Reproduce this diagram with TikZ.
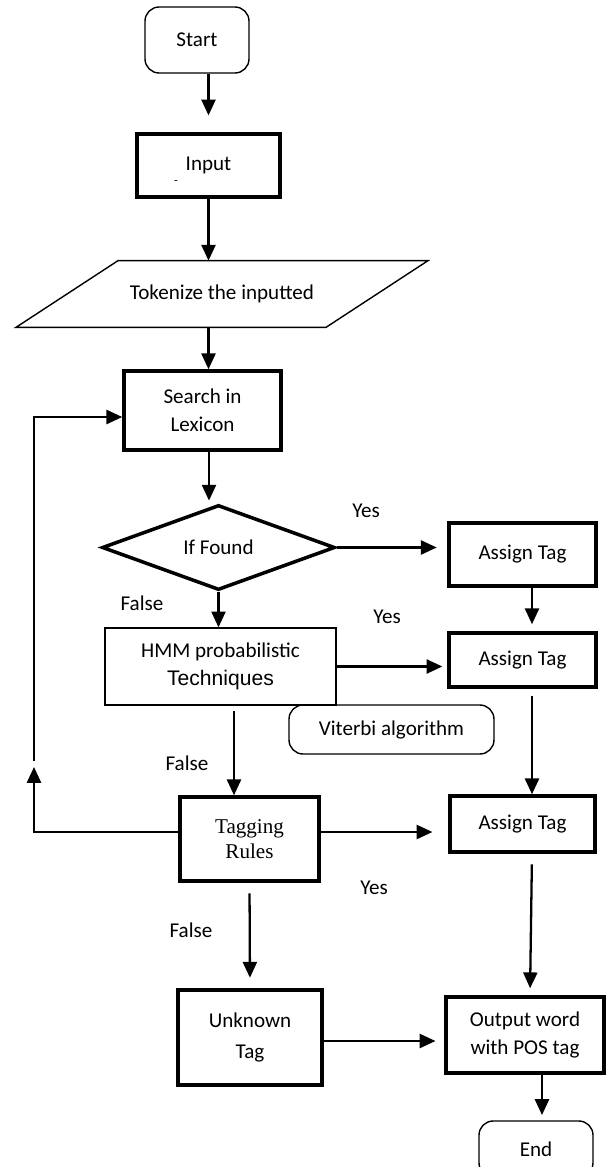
\documentclass[tikz,border=0pt]{standalone}
\usepackage{fontspec}
\setmainfont{Carlito}
\newfontfamily\arialfont{Liberation Sans}
\newfontfamily\timesfont{Liberation Serif}
\usetikzlibrary{arrows.meta,shapes.geometric,calc}

\tikzset{
  base/.style={font=\fontsize{12}{16}\selectfont, align=center, inner sep=0pt},
  thinbox/.style={base, draw, line width=0.8pt},
  thickbox/.style={base, draw, line width=2pt},
  term/.style={base, draw, line width=0.8pt, rounded corners=8pt},
  arr/.style={line width=1.3pt, -{Triangle[length=9pt,width=8pt]}},
  lbl/.style={font=\fontsize{12}{14}\selectfont}
}

\begin{document}
\begin{tikzpicture}[x=0.02cm, y=-0.02cm]
  \useasboundingbox (0,0) rectangle (608,1167);

  % boxes
  \node[term, minimum width=2.08cm, minimum height=1.32cm] (start) at (197,40) {Start};
  \node[thickbox, minimum width=2.86cm, minimum height=1.26cm] (input) at (208.5,165.5) {Input};
  \node[font=\scriptsize] (dash) at (176,183) {-};
  \node[base, minimum height=1.32cm] (tok) at (222,294) {Tokenize the inputted};
  \draw[line width=0.8pt] ($(tok.north)+(-104,0)$) -- ($(tok.north)+(206,0)$)
    -- ($(tok.south)+(104,0)$) -- ($(tok.south)+(-206,0)$) -- cycle;
  \node[thickbox, minimum width=3.14cm, minimum height=1.58cm] (search) at (202.5,410.5) {Search in\\Lexicon};
  \node[thickbox, diamond, minimum width=4.66cm, minimum height=1.54cm] (found) at (218.5,547.5) {If Found};
  \node[thickbox, minimum width=2.94cm, minimum height=1.26cm] (a1) at (522.5,554.5) {Assign Tag};
  \node[thinbox, minimum width=4.62cm, minimum height=1.54cm] (hmm) at (220.5,666.5)
    {HMM probabilistic\\{\arialfont Techniques}};
  \node[thickbox, minimum width=2.94cm, minimum height=1.08cm] (a2) at (522.5,660) {Assign Tag};
  \node[term, minimum width=4.10cm, minimum height=0.98cm] (vit) at (391.5,729.5) {Viterbi algorithm};
  \node[thickbox, minimum width=2.78cm, minimum height=1.68cm, font=\timesfont\fontsize{12}{14}\selectfont]
    (tag) at (249.5,839) {Tagging\\Rules};
  \node[thickbox, minimum width=2.90cm, minimum height=1.12cm] (a3) at (522.5,824) {Assign Tag};
  \node[thickbox, minimum width=2.88cm, minimum height=1.90cm, font=\fontsize{12}{17.5}\selectfont]
    (unk) at (250,1037.5) {Unknown\\Tag};
  \node[thickbox, minimum width=3.16cm, minimum height=1.52cm] (out) at (525,1035) {Output word\\with POS tag};
  \node[term, minimum width=2.28cm, minimum height=1.12cm] (end) at (536,1149) {End};

  % labels
  \node[lbl] (yes1) at (366,511) {Yes};
  \node[lbl] (yes2) at (387,617) {Yes};
  \node[lbl] (yes3) at (374,888) {Yes};
  \node[lbl] (no1) at (142,603) {False};
  \node[lbl] (no2) at (187,763) {False};
  \node[lbl] (no3) at (191,930) {False};

  % columns and loop points
  \coordinate (rcol) at (532,0);
  \coordinate (mcol) at (234,0);
  \coordinate (lpA) at (34,832);
  \coordinate (lpB) at (34,767);
  \coordinate (lpC) at (34,761);
  \coordinate (lpD) at (34,417);

  % connectors
  \draw[arr, shorten >=9.6pt] (input.north |- start.south) -- (input.north);
  \draw[arr] (input.south) -- (input.south |- tok.north);
  \draw[arr] (input.south |- tok.south) -- (input.south |- search.north);
  \draw[arr, shorten >=1.5pt] ([xshift=6.5*0.02cm]search.south) -- ([xshift=6.5*0.02cm]search.south |- found.north);
  \draw[arr, shorten >=6pt] (found.east) -- (found.east -| a1.west);
  \draw[arr, shorten >=4pt] (a1.south -| rcol) -- (a2.north -| rcol);
  \draw[arr] (found.south) -- (found.south |- hmm.north);
  \draw[arr, shorten >=2.8pt] (hmm.east) -- (hmm.east -| a2.west);
  \draw[arr, shorten <=4pt] (a2.south -| rcol) -- (a3.north -| rcol);
  \draw[arr, shorten <=3pt] (hmm.south -| mcol) -- (tag.north -| mcol);
  \draw[arr, shorten >=9pt] (tag.east |- a3.west) ++(0,8) -- ($(a3.west)+(0,8)$);
  \draw[arr, shorten <=6pt, shorten >=6pt] (tag.south) -- (unk.north);
  \draw[arr, shorten <=6pt, shorten >=4pt] (a3.south -| rcol) -- ($(out.north -| rcol)+(-2,0)$);
  \draw[arr, shorten >=5pt] (unk.east |- out.west) ++(0,6) -- ($(out.west)+(0,6)$);
  \draw[arr, shorten >=3pt] ($(out.south)+(17,0)$) -- ($(end.north)+(6,0)$);
  \draw[arr] (tag.west |- lpA) -- (lpA) -- (lpB);
  \draw[arr] (lpC) -- (lpD) -- (search.west |- lpD);
\end{tikzpicture}
\end{document}
